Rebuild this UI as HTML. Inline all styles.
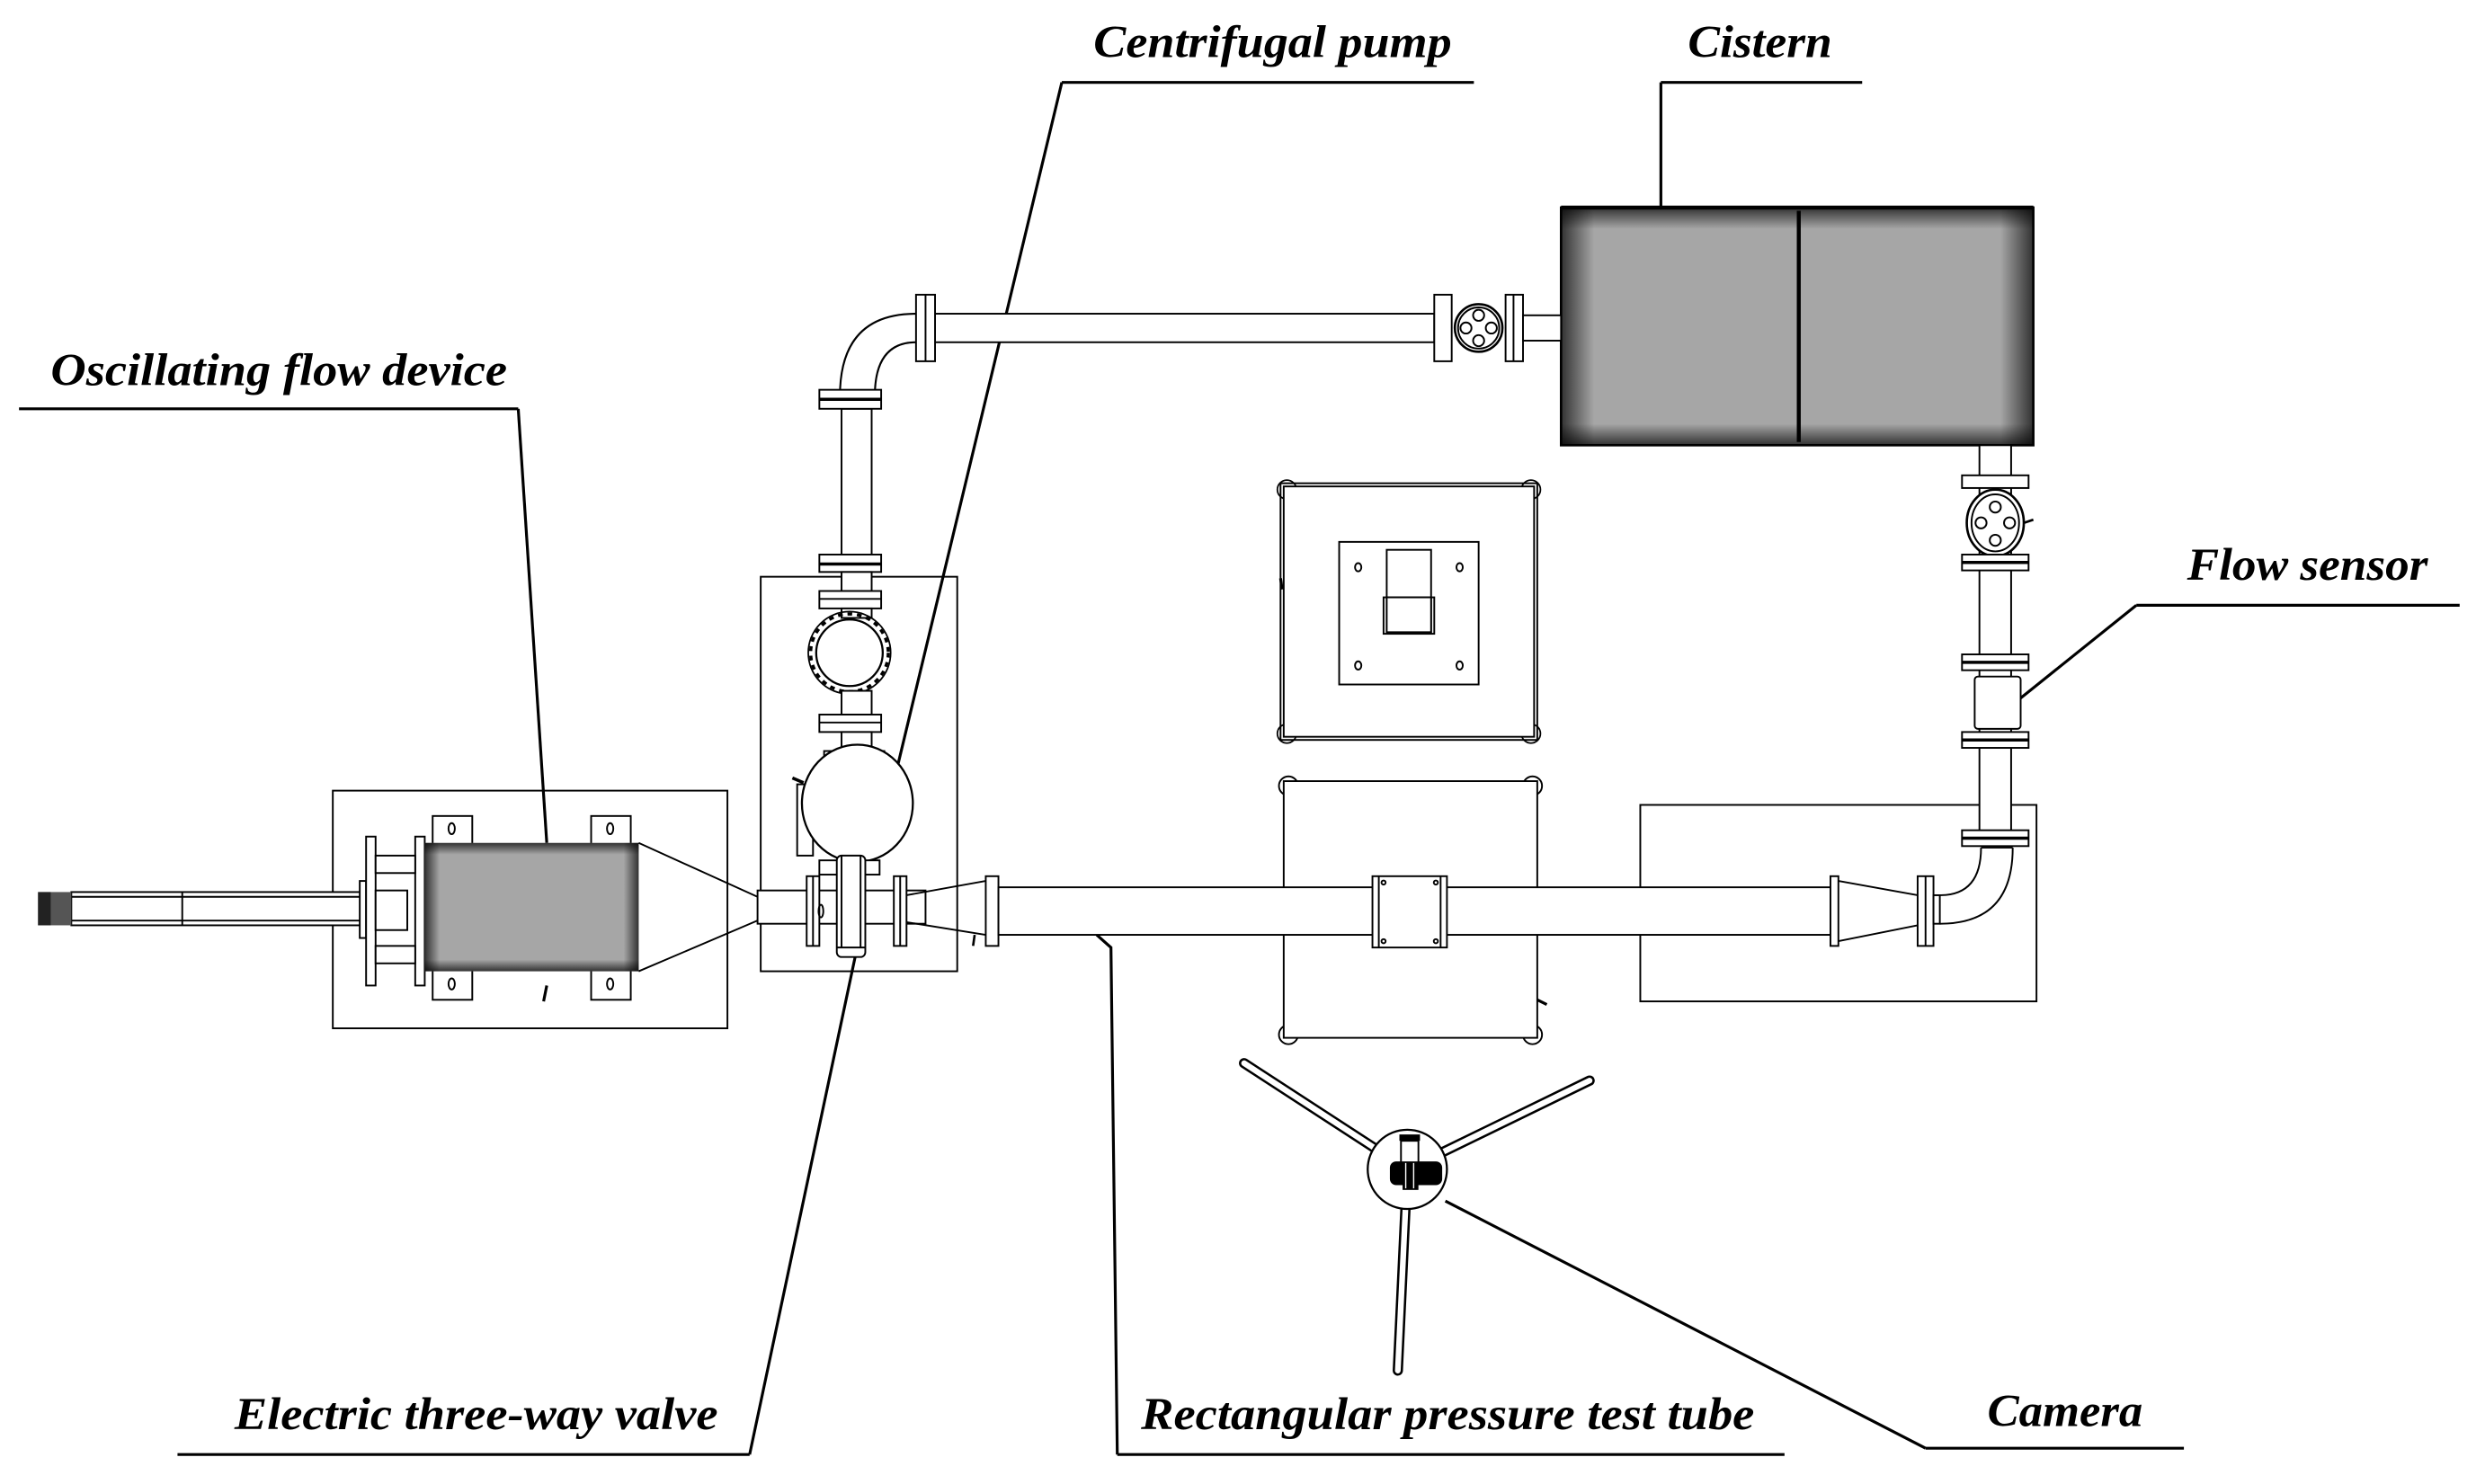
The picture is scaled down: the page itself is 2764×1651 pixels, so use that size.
<!DOCTYPE html>
<html><head><meta charset="utf-8"><style>
html,body{margin:0;padding:0;background:#fff;}
svg{display:block;}
text{font-family:"Liberation Serif",serif;font-weight:bold;font-style:italic;font-size:29px;fill:#000;}
</style></head><body>
<svg width="2764" height="1651" viewBox="0 0 1568 936.6" preserveAspectRatio="none" xmlns="http://www.w3.org/2000/svg">
<defs>
<linearGradient id="gh" x1="0" x2="1" y1="0" y2="0">
<stop offset="0" stop-color="#000" stop-opacity="0.7"/><stop offset="0.07" stop-color="#000" stop-opacity="0"/>
<stop offset="0.93" stop-color="#000" stop-opacity="0"/><stop offset="1" stop-color="#000" stop-opacity="0.7"/></linearGradient>
<linearGradient id="gv" x1="0" x2="0" y1="0" y2="1">
<stop offset="0" stop-color="#000" stop-opacity="0.7"/><stop offset="0.09" stop-color="#000" stop-opacity="0"/>
<stop offset="0.91" stop-color="#000" stop-opacity="0"/><stop offset="1" stop-color="#000" stop-opacity="0.7"/></linearGradient>
</defs>
<rect width="1568" height="937" fill="#fff"/>
<g fill="none" stroke="#000" stroke-width="1.1">

<g stroke-width="1.8">
<line x1="670" y1="52" x2="930" y2="52"/><line x1="670" y1="52" x2="560" y2="510"/>
<line x1="1048" y1="52" x2="1175" y2="52"/><line x1="1048" y1="52" x2="1048" y2="131"/>
<line x1="12" y1="258" x2="327" y2="258"/><line x1="327" y1="258" x2="345" y2="532"/>
<line x1="1348" y1="382" x2="1552" y2="382"/><line x1="1348" y1="382" x2="1272" y2="443"/>
<line x1="112" y1="918" x2="473" y2="918"/><line x1="473" y1="918" x2="540" y2="602"/>
<line x1="705" y1="918" x2="1126" y2="918"/><polyline points="705,918 701,598 692,590"/>
<line x1="1215" y1="914" x2="1378" y2="914"/><line x1="1215" y1="914" x2="912" y2="758"/>
</g>

<rect x="985" y="131" width="298" height="150" fill="#a6a6a6" stroke="none"/>
<rect x="985" y="131" width="298" height="150" fill="url(#gh)" stroke="none"/>
<rect x="985" y="131" width="298" height="150" fill="url(#gv)" stroke="none"/>
<rect x="985" y="131" width="298" height="150" stroke-width="1.5"/>
<line x1="985" y1="131" x2="1283" y2="131" stroke-width="2.5"/>
<line x1="1135" y1="133" x2="1135" y2="279" stroke-width="2.5"/>

<rect x="590" y="198" width="315" height="18" fill="#fff"/>
<rect x="578" y="186" width="12" height="42" fill="#fff"/><line x1="584" y1="186" x2="584" y2="228"/>
<rect x="905" y="186" width="11" height="42" fill="#fff"/>
<rect x="950" y="186" width="11" height="42" fill="#fff"/><line x1="955" y1="186" x2="955" y2="228"/>
<rect x="961" y="199" width="24" height="16" fill="#fff"/>
<circle cx="933" cy="207" r="15" fill="#fff" stroke-width="1.5"/>
<circle cx="933" cy="207" r="13"/>
<circle cx="933" cy="199" r="3.5"/><circle cx="933" cy="215" r="3.5"/><circle cx="925" cy="207" r="3.5"/><circle cx="941" cy="207" r="3.5"/>
<path d="M578,198 Q530,198 530,250" stroke-width="1.2"/>
<path d="M578,216 Q552,216 552,250" stroke-width="1.2"/>
<line x1="530" y1="250" x2="552" y2="250"/>
<rect x="531" y="258" width="19" height="94" fill="#fff"/>
<rect x="517" y="246" width="39" height="12" fill="#fff"/><line x1="517" y1="252" x2="556" y2="252" stroke-width="2"/>
<rect x="517" y="350" width="39" height="11" fill="#fff"/><line x1="517" y1="356" x2="556" y2="356" stroke-width="2"/>
<rect x="480" y="364" width="124" height="249"/>
<rect x="531" y="361" width="19" height="12" fill="#fff"/>
<rect x="517" y="373" width="39" height="11" fill="#fff"/><line x1="517" y1="378" x2="556" y2="378"/>
<rect x="531" y="384" width="19" height="6" fill="#fff"/>
<circle cx="536" cy="412" r="26" stroke-width="1"/>
<circle cx="536" cy="412" r="24.5" stroke-dasharray="3 3" stroke-width="2"/>
<circle cx="536" cy="412" r="21" fill="#fff" stroke-width="1.3"/>
<rect x="531" y="436" width="19" height="15" fill="#fff"/>
<rect x="517" y="451" width="39" height="11" fill="#fff"/><line x1="517" y1="456" x2="556" y2="456"/>
<rect x="531" y="462" width="19" height="14" fill="#fff"/>
<rect x="520" y="474" width="38" height="6" fill="#fff"/>
<rect x="503" y="495" width="10" height="45" fill="#fff"/>
<ellipse cx="541" cy="507" rx="35" ry="37" fill="#fff" stroke-width="1.3"/>
<rect x="517" y="543" width="38" height="9" fill="#fff"/>
<line x1="500" y1="491" x2="507" y2="494" stroke-width="2"/>

<rect x="210" y="499" width="249" height="150"/>
<rect x="45" y="563" width="185" height="21" fill="#fff"/>
<line x1="45" y1="566" x2="230" y2="566"/><line x1="45" y1="581" x2="230" y2="581"/>
<line x1="115" y1="563" x2="115" y2="584"/>
<rect x="24" y="563" width="21" height="21" fill="#555" stroke="none"/>
<rect x="24" y="563" width="8" height="21" fill="#222" stroke="none"/>
<rect x="227" y="556" width="4" height="36" fill="#fff"/>
<rect x="231" y="528" width="6" height="94" fill="#fff"/>
<rect x="262" y="528" width="6" height="94" fill="#fff"/>
<rect x="237" y="540" width="25" height="11" fill="#fff"/><rect x="237" y="597" width="25" height="11" fill="#fff"/>
<rect x="237" y="562" width="20" height="25" fill="#fff"/>
<rect x="273" y="515" width="25" height="116" fill="#fff"/><rect x="373" y="515" width="25" height="116" fill="#fff"/>
<ellipse cx="285" cy="523" rx="2" ry="3.5"/><ellipse cx="385" cy="523" rx="2" ry="3.5"/>
<ellipse cx="285" cy="621" rx="2" ry="3.5"/><ellipse cx="385" cy="621" rx="2" ry="3.5"/>
<rect x="268" y="532" width="135" height="81" fill="#a6a6a6" stroke="none"/>
<rect x="268" y="532" width="135" height="81" fill="url(#gh)" stroke="none"/>
<rect x="268" y="532" width="135" height="81" fill="url(#gv)" stroke="none"/>
<path d="M403,532 L478,566 M403,613 L478,581"/>
<line x1="345" y1="622" x2="343" y2="632" stroke-width="1.8"/>

<rect x="478" y="562" width="106" height="21" fill="#fff"/>
<rect x="509" y="553" width="8" height="44" fill="#fff"/><line x1="513" y1="553" x2="513" y2="597"/>
<rect x="564" y="553" width="8" height="44" fill="#fff"/><line x1="568" y1="553" x2="568" y2="597"/>
<rect x="528" y="540" width="18" height="64" rx="3" fill="#fff"/>
<line x1="528" y1="598" x2="546" y2="598"/><line x1="531" y1="540" x2="531" y2="598"/><line x1="543" y1="540" x2="543" y2="598"/>
<ellipse cx="518" cy="575" rx="1.5" ry="4"/>
<path d="M572,565 L622,556 M572,582 L622,590"/>
<rect x="622" y="553" width="8" height="44" fill="#fff"/>
<line x1="615" y1="590" x2="614" y2="597" stroke-width="1.5"/>

<rect x="808" y="305" width="162" height="162" fill="#fff"/>
<g stroke-width="1">
<circle cx="812" cy="309" r="6"/><circle cx="966" cy="309" r="6"/><circle cx="812" cy="463" r="6"/><circle cx="966" cy="463" r="6"/>
</g>
<rect x="810" y="307" width="158" height="158" fill="#fff"/>
<rect x="845" y="342" width="88" height="90"/>
<rect x="875" y="347" width="28" height="52"/><rect x="873" y="377" width="32" height="23"/><rect x="875" y="377" width="28" height="22" fill="#fff"/>
<ellipse cx="857" cy="358" rx="2" ry="2.6"/><ellipse cx="921" cy="358" rx="2" ry="2.6"/>
<ellipse cx="857" cy="420" rx="2" ry="2.6"/><ellipse cx="921" cy="420" rx="2" ry="2.6"/>

<circle cx="813" cy="496" r="6"/><circle cx="967" cy="496" r="6"/><circle cx="813" cy="653" r="6"/><circle cx="967" cy="653" r="6"/>
<rect x="810" y="493" width="160" height="162" fill="#fff"/>
<line x1="970" y1="631" x2="976" y2="634" stroke-width="1.8"/>
<line x1="808" y1="365" x2="809" y2="372" stroke-width="1.8"/>

<rect x="1035" y="508" width="250" height="124" fill="#fff"/>

<rect x="630" y="560" width="525" height="30" fill="#fff"/>
<rect x="866" y="553" width="47" height="45" fill="#fff"/><line x1="870" y1="553" x2="870" y2="598"/><line x1="909" y1="553" x2="909" y2="598"/>
<circle cx="873" cy="557" r="1.3"/><circle cx="906" cy="557" r="1.3"/><circle cx="873" cy="594" r="1.3"/><circle cx="906" cy="594" r="1.3"/>
<rect x="1155" y="553" width="5" height="44" fill="#fff"/>
<path d="M1160,556 L1210,565 M1160,594 L1210,584"/>
<rect x="1210" y="553" width="10" height="44" fill="#fff"/><line x1="1215" y1="553" x2="1215" y2="597"/>
<rect x="1220" y="565" width="4" height="18" fill="#fff"/>
<path d="M1224,565 Q1250,565 1250,535"/><path d="M1224,583 Q1270,583 1270,535"/>
<line x1="1250" y1="535" x2="1270" y2="535"/>

<rect x="1249" y="281" width="20" height="246" fill="#fff"/>
<rect x="1238" y="300" width="42" height="8" fill="#fff"/>
<ellipse cx="1259" cy="330" rx="18" ry="21" fill="#fff" stroke-width="1.5"/><ellipse cx="1259" cy="330" rx="15" ry="18"/>
<circle cx="1259" cy="320" r="3.5"/><circle cx="1259" cy="341" r="3.5"/><circle cx="1250" cy="330" r="3.5"/><circle cx="1268" cy="330" r="3.5"/>
<line x1="1277" y1="330" x2="1283" y2="328" stroke-width="1.5"/>
<rect x="1238" y="350" width="42" height="10" fill="#fff"/><line x1="1238" y1="355" x2="1280" y2="355" stroke-width="2"/>
<rect x="1238" y="413" width="42" height="10" fill="#fff"/><line x1="1238" y1="418" x2="1280" y2="418" stroke-width="2"/>
<rect x="1246" y="427" width="29" height="33" rx="2" fill="#fff"/>
<rect x="1238" y="462" width="42" height="10" fill="#fff"/><line x1="1238" y1="467" x2="1280" y2="467" stroke-width="2"/>
<rect x="1238" y="524" width="42" height="10" fill="#fff"/><line x1="1238" y1="529" x2="1280" y2="529" stroke-width="2"/>

<g stroke-linecap="round">
<line x1="888" y1="738" x2="785" y2="671" stroke-width="6.5"/><line x1="888" y1="738" x2="785" y2="671" stroke="#fff" stroke-width="3.6"/>
<line x1="888" y1="738" x2="1003" y2="682" stroke-width="6.5"/><line x1="888" y1="738" x2="1003" y2="682" stroke="#fff" stroke-width="3.6"/>
<line x1="888" y1="738" x2="882" y2="865" stroke-width="6.5"/><line x1="888" y1="738" x2="882" y2="865" stroke="#fff" stroke-width="3.6"/>
</g>
<circle cx="888" cy="738" r="25" fill="#fff" stroke-width="1.3"/>
<rect x="883" y="716" width="13" height="4" fill="#000" stroke="none"/>
<rect x="884" y="720" width="11" height="15" fill="#fff"/>
<rect x="877" y="733" width="33" height="15" rx="4" fill="#000" stroke="none"/>
<rect x="885" y="745" width="10" height="6" fill="#000" stroke="none"/>
<line x1="887" y1="734" x2="887" y2="750" stroke="#fff" stroke-width="0.8"/>
<line x1="892" y1="734" x2="892" y2="750" stroke="#fff" stroke-width="0.8"/>
</g>

<text x="690" y="36" textLength="226" lengthAdjust="spacingAndGlyphs">Centrifugal pump</text>
<text x="1065" y="36" textLength="91" lengthAdjust="spacingAndGlyphs">Cistern</text>
<text x="32" y="243" textLength="288" lengthAdjust="spacingAndGlyphs">Oscillating flow device</text>
<text x="1380" y="366" textLength="152" lengthAdjust="spacingAndGlyphs">Flow sensor</text>
<text x="148" y="902" textLength="305" lengthAdjust="spacingAndGlyphs">Electric three-way valve</text>
<text x="720" y="902" textLength="387" lengthAdjust="spacingAndGlyphs">Rectangular pressure test tube</text>
<text x="1254" y="900" textLength="98" lengthAdjust="spacingAndGlyphs">Camera</text>
</svg>
</body></html>
